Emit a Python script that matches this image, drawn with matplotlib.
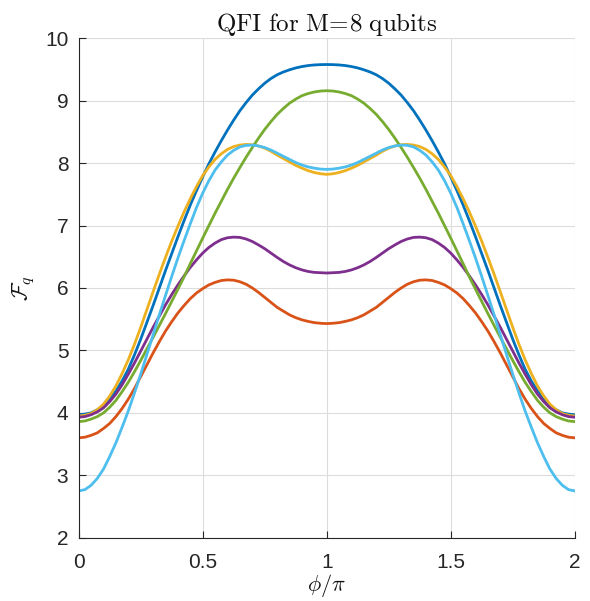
import matplotlib
matplotlib.use("Agg")
import matplotlib.pyplot as plt
import numpy as np

# phi/pi sample positions (step 0.025)
phi = np.linspace(0.0, 2.0, 81)

blue = [3.97, 3.98, 4.00, 4.05, 4.11, 4.21, 4.35, 4.51, 4.70, 4.93,
        5.18, 5.45, 5.72, 6.00, 6.28, 6.55, 6.82, 7.08, 7.33, 7.56,
        7.78, 7.99, 8.18, 8.36, 8.53, 8.69, 8.84, 8.97, 9.09, 9.19,
        9.28, 9.355, 9.415, 9.46, 9.495, 9.525, 9.547, 9.563, 9.573, 9.578,
        9.58,
        9.578, 9.573, 9.563, 9.547, 9.525, 9.495, 9.46, 9.415, 9.355, 9.28,
        9.19, 9.09, 8.97, 8.84, 8.69, 8.53, 8.36, 8.18, 7.99, 7.78,
        7.56, 7.33, 7.08, 6.82, 6.55, 6.28, 6.00, 5.72, 5.45, 5.18,
        4.93, 4.70, 4.51, 4.35, 4.21, 4.11, 4.05, 4.00, 3.98, 3.97]

orange = [3.60, 3.61, 3.64, 3.68, 3.75, 3.83, 3.94, 4.07, 4.22, 4.39,
          4.58, 4.77, 4.96, 5.14, 5.31, 5.46, 5.60, 5.72, 5.83, 5.92,
          5.99, 6.05, 6.09, 6.12, 6.13, 6.125, 6.10, 6.06, 6.00, 5.93,
          5.85, 5.77, 5.69, 5.63, 5.57, 5.525, 5.49, 5.465, 5.445, 5.435,
          5.43,
          5.435, 5.445, 5.465, 5.49, 5.525, 5.57, 5.63, 5.69, 5.77, 5.85,
          5.93, 6.00, 6.06, 6.10, 6.125, 6.13, 6.12, 6.09, 6.05, 5.99,
          5.92, 5.83, 5.72, 5.60, 5.46, 5.31, 5.14, 4.96, 4.77, 4.58,
          4.39, 4.22, 4.07, 3.94, 3.83, 3.75, 3.68, 3.64, 3.61, 3.60]

yellow = [3.95, 3.96, 3.99, 4.05, 4.14, 4.27, 4.43, 4.63, 4.85, 5.10,
          5.37, 5.655, 5.94, 6.22, 6.49, 6.75, 6.99, 7.22, 7.43, 7.625,
          7.80, 7.94, 8.06, 8.15, 8.22, 8.265, 8.29, 8.30, 8.295, 8.275,
          8.24, 8.19, 8.13, 8.075, 8.02, 7.965, 7.92, 7.88, 7.85, 7.83,
          7.82,
          7.83, 7.85, 7.88, 7.92, 7.965, 8.02, 8.075, 8.13, 8.19, 8.24,
          8.275, 8.295, 8.30, 8.29, 8.265, 8.22, 8.15, 8.06, 7.94, 7.80,
          7.625, 7.43, 7.22, 6.99, 6.75, 6.49, 6.22, 5.94, 5.655, 5.37,
          5.10, 4.85, 4.63, 4.43, 4.27, 4.14, 4.05, 3.99, 3.96, 3.95]

purple = [3.93, 3.94, 3.97, 4.015, 4.08, 4.18, 4.30, 4.45, 4.62, 4.80,
          4.99, 5.18, 5.37, 5.55, 5.73, 5.895, 6.05, 6.195, 6.33, 6.45,
          6.56, 6.65, 6.72, 6.775, 6.805, 6.815, 6.81, 6.785, 6.745, 6.69,
          6.63, 6.56, 6.49, 6.425, 6.37, 6.325, 6.29, 6.265, 6.25, 6.245,
          6.24,
          6.245, 6.25, 6.265, 6.29, 6.325, 6.37, 6.425, 6.49, 6.56, 6.63,
          6.69, 6.745, 6.785, 6.81, 6.815, 6.805, 6.775, 6.72, 6.65, 6.56,
          6.45, 6.33, 6.195, 6.05, 5.895, 5.73, 5.55, 5.37, 5.18, 4.99,
          4.80, 4.62, 4.45, 4.30, 4.18, 4.08, 4.015, 3.97, 3.94, 3.93]

green = [3.86, 3.87, 3.90, 3.94, 4.00, 4.09, 4.20, 4.34, 4.49, 4.66,
         4.84, 5.025, 5.21, 5.40, 5.59, 5.785, 5.98, 6.18, 6.39, 6.595,
         6.80, 7.00, 7.20, 7.39, 7.58, 7.76, 7.93, 8.095, 8.25, 8.40,
         8.54, 8.665, 8.78, 8.875, 8.96, 9.025, 9.08, 9.115, 9.14, 9.155,
         9.16,
         9.155, 9.14, 9.115, 9.08, 9.025, 8.96, 8.875, 8.78, 8.665, 8.54,
         8.40, 8.25, 8.095, 7.93, 7.76, 7.58, 7.39, 7.20, 7.00, 6.80,
         6.595, 6.39, 6.18, 5.98, 5.785, 5.59, 5.40, 5.21, 5.025, 4.84,
         4.66, 4.49, 4.34, 4.20, 4.09, 4.00, 3.94, 3.90, 3.87, 3.86]

lightblue = [2.75, 2.77, 2.84, 2.95, 3.10, 3.30, 3.52, 3.77, 4.03, 4.32,
             4.62, 4.935, 5.25, 5.57, 5.88, 6.185, 6.48, 6.76, 7.03, 7.29,
             7.52, 7.72, 7.89, 8.02, 8.13, 8.205, 8.26, 8.285, 8.29, 8.275,
             8.25, 8.21, 8.16, 8.11, 8.06, 8.01, 7.97, 7.94, 7.92, 7.905,
             7.90,
             7.905, 7.92, 7.94, 7.97, 8.01, 8.06, 8.11, 8.16, 8.21, 8.25,
             8.275, 8.29, 8.285, 8.26, 8.205, 8.13, 8.02, 7.89, 7.72, 7.52,
             7.29, 7.03, 6.76, 6.48, 6.185, 5.88, 5.57, 5.25, 4.935, 4.62,
             4.32, 4.03, 3.77, 3.52, 3.30, 3.10, 2.95, 2.84, 2.77, 2.75]

series = [blue, orange, yellow, purple, green, lightblue]
colors = ["#0072BD", "#D95319", "#EDB120", "#7E2F8E", "#77AC30", "#4DBEEE"]

xticks = [0, 0.5, 1, 1.5, 2]
xticklabels = ["0", "0.5", "1", "1.5", "2"]
yticks = [2, 3, 4, 5, 6, 7, 8, 9, 10]

plt.rcParams['mathtext.fontset'] = 'cm'
plt.rcParams['font.family'] = ['Liberation Sans', 'DejaVu Sans']

fig = plt.figure(figsize=(5.90, 6.01), dpi=100)
ax = fig.add_axes([0.1334, 0.1053, 0.8407, 0.8310])

for ys, c in zip(series, colors):
    ax.plot(phi, ys, color=c, lw=2.0, solid_joinstyle='round')

ax.set_xlim(0, 2)
ax.set_ylim(2, 10)
ax.set_xticks(xticks)
ax.set_xticklabels(xticklabels)
ax.set_yticks(yticks)

axcol = "#262626"
ax.grid(True, color="#dcdcdc", lw=0.8)
ax.set_axisbelow(True)
for s in ["top", "right"]:
    ax.spines[s].set_visible(False)
for s in ["left", "bottom"]:
    ax.spines[s].set_color(axcol)
    ax.spines[s].set_linewidth(0.8)
ax.tick_params(direction='in', length=5, width=0.8, colors=axcol, labelsize=15)
ax.tick_params(axis='x', pad=11)
ax.tick_params(axis='y', pad=7.5)

ax.set_title(r'$\mathrm{QFI\ for\ M\!=\!8\ qubits}$', fontsize=18, pad=5, color='#111111')
ax.set_xlabel(r'$\phi/\pi$', fontsize=16, labelpad=0, color='#111111')
ax.set_ylabel(r'$\mathcal{F}_q$', fontsize=16, labelpad=6, color='#111111')

fig.savefig("out.png", dpi=100)
